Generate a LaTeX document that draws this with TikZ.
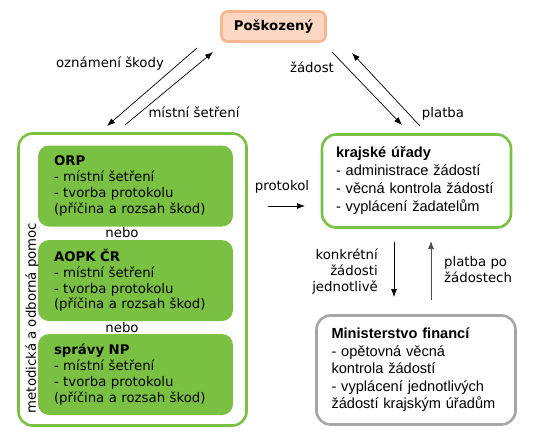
\documentclass[tikz,border=0pt]{standalone}
\usepackage{fontspec}
\setmainfont{DejaVu Sans}
\newfontfamily\arialfont{Liberation Sans}
\usetikzlibrary{arrows.meta}
\definecolor{zelena}{RGB}{122,193,67}
\definecolor{broskev}{RGB}{252,216,196}
\definecolor{broskevokraj}{RGB}{248,182,145}
\definecolor{seda}{RGB}{166,166,166}

\begin{document}
\begin{tikzpicture}[x=1pt, y=-1pt,
	txt/.style={font=\fontsize{13.3pt}{16pt}\selectfont, inner sep=0pt},
	ram/.style={draw, rounded corners=14pt, line width=2.6pt, fill=white},
	ukol/.style={fill=zelena, rounded corners=11pt, minimum width=195pt, minimum height=81pt, text width=163pt, inner xsep=16pt, align=left, font=\fontsize{13.3pt}{15.8pt}\selectfont},
	sipka/.style={-{Latex[length=8pt,width=6pt]}, line width=0.7pt}]
	\useasboundingbox (0,0) rectangle (536,445);
	% poskozeny
	\node[draw=broskevokraj, fill=broskev, line width=2.6pt, rounded corners=6pt, minimum width=104pt, minimum height=30pt, font=\bfseries\fontsize{13.3pt}{16pt}\selectfont] (posk) at (273.5,26.5) {Poškozený};
	% obce, AOPK a spravy NP
	\node[ram, draw=zelena, minimum width=228pt, minimum height=292pt] (obce) at (132.5,279.5) {};
	\foreach \jm/\y/\nazev in {orp/186/ORP, aopk/280.5/AOPK ČR, np/374.5/správy NP}
		\node[ukol] (\jm) at (135.5,\y) {\textbf{\nazev}\\- místní šetření\\- tvorba protokolu\\(příčina a rozsah škod)};
	\node[txt] (nebo1) at (122,233) {nebo};
	\node[txt] (nebo2) at (122,327.5) {nebo};
	\node[txt, rotate=90] (pomoc) at (32,318) {metodická a odborná pomoc};
	% kraje a MF
	\node[ram, draw=zelena, minimum width=188pt, minimum height=93pt, text width=161pt, inner xsep=14pt, align=left, font=\arialfont\fontsize{14.6pt}{18pt}\selectfont] (kraj) at (416.5,181) {\textbf{krajské úřady}\\- administrace žádostí\\- věcná kontrola žádostí\\- vyplácení žadatelům};
	\node[ram, draw=seda, minimum width=199pt, minimum height=109pt, text width=169pt, inner xsep=15pt, align=left, font=\arialfont\fontsize{14.6pt}{17.5pt}\selectfont] (mf) at (416,370) {\textbf{Ministerstvo financí}\\- opětovná věcná\\kontrola žádostí\\- vyplácení jednotlivých\\žádostí krajským úřadům};
	% sipky
	\coordinate (oz1) at (197,48); \coordinate (oz2) at (107,126);
	\coordinate (ms1) at (125,125); \coordinate (ms2) at (213,52);
	\coordinate (zd1) at (332,52); \coordinate (zd2) at (402,125);
	\coordinate (pl1) at (420,126); \coordinate (pl2) at (352,53);
	\coordinate (pr1) at (268,206); \coordinate (pr2) at (305,206);
	\coordinate (kz1) at (394,242); \coordinate (kz2) at (394,297);
	\coordinate (pz1) at (431,300); \coordinate (pz2) at (431,241);
	\draw[sipka] (oz1) -- (oz2);
	\draw[sipka] (ms1) -- (ms2);
	\draw[sipka] (zd1) -- (zd2);
	\draw[sipka] (pl1) -- (pl2);
	\draw[sipka] (pr1) -- (pr2);
	\draw[sipka] (kz1) -- (kz2);
	\draw[sipka, black!70] (pz1) -- (pz2);
	% popisky
	\node[txt] (oznameni) at (110,64) {oznámení škody};
	\node[txt] (setreni) at (194,112) {místní šetření};
	\node[txt] (zadost) at (312,67) {žádost};
	\node[txt] (platba) at (443,114) {platba};
	\node[txt] (protokol) at (282,187) {protokol};
	\node[txt, align=right, anchor=east, font=\fontsize{13.3pt}{15.7pt}\selectfont] (konkretni) at (378,271.5) {konkrétní\\žádosti\\jednotlivě};
	\node[txt, align=left, anchor=west, font=\fontsize{13.3pt}{15.5pt}\selectfont] (platbapo) at (444,269.5) {platba po\\žádostech};
\end{tikzpicture}
\end{document}
